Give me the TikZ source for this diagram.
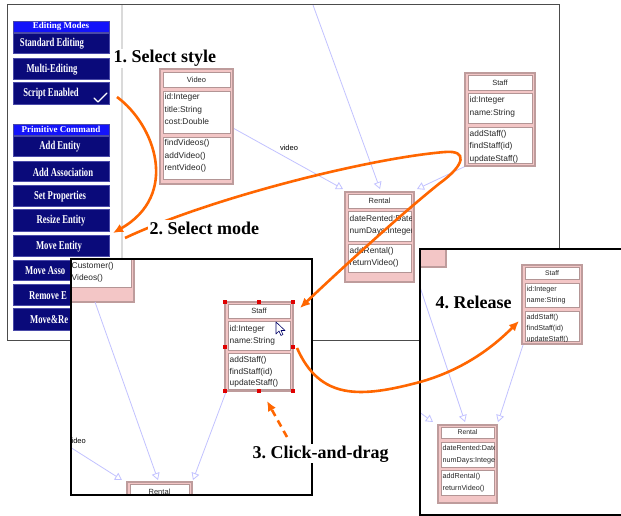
\documentclass[tikz,border=0pt]{standalone}
\usepackage{fontspec}
\setmainfont{Liberation Serif}
\newfontfamily\umlfont{Liberation Sans}
\newfontfamily\menufont[FakeStretch=0.72]{Liberation Serif}
\newfontfamily\hdrfont{Liberation Serif}
\usetikzlibrary{arrows.meta}
\definecolor{navybtn}{HTML}{0A0A7A}
\definecolor{btnedge}{HTML}{4A4AA8}
\definecolor{hdrblue}{HTML}{1414FA}
\definecolor{boxpink}{HTML}{F3C6C6}
\definecolor{boxedge}{HTML}{BE9C9C}
\definecolor{compedge}{HTML}{B39595}
\definecolor{linkblue}{HTML}{C2C2FF}
\definecolor{orng}{HTML}{FF6600}
\definecolor{sepgray}{HTML}{DADADA}
\definecolor{handle}{HTML}{E00000}
\frenchspacing

\newcommand\ucomp[8]{%
  \draw[comp] (#1,#2) rectangle (#3,#4);
  \begin{scope}
    \clip (#1,#2) rectangle (#3,#4);
    \foreach \l [count=\i] in {#8}{%
      \node[ctext, font=\umlfont\fontsize{#5}{#5}\selectfont, anchor=base west] (t-#1-#2-\i) at ({#1+1.5},{#2+#6+(\i-1)*#7}) {\l};
    }
  \end{scope}}
\newcommand\utitle[6]{%
  \draw[comp] (#1,#2) rectangle (#3,#4);
  \node[ctext, font=\umlfont\fontsize{#5}{#5}\selectfont] (tt-#1-#2) at ({(#1+#3)/2},{(#2+#4)/2}) {#6};}
\newcommand\uouter[5]{%
  \node[boxouter, anchor=north west, minimum width={#4pt-#2pt}, minimum height={#5pt-#3pt}] (#1) at (#2,#3) {};}

\begin{document}
\begin{tikzpicture}[x=1pt,y=-1pt,
  panelA/.style={draw=black!70, line width=1},
  panelB/.style={draw=black, line width=1.2},
  btn/.style={draw=btnedge, fill=navybtn, line width=0.8},
  hdr/.style={draw=btnedge, fill=hdrblue, line width=0.6},
  btntext/.style={text=white, inner sep=0, font=\menufont\bfseries\fontsize{12}{13}\selectfont},
  hdrtext/.style={text=white, inner sep=0, font=\hdrfont\bfseries\fontsize{9}{10}\selectfont},
  boxouter/.style={draw=boxedge, fill=boxpink, line width=1.1, inner sep=0, outer sep=0},
  comp/.style={draw=compedge, fill=white, line width=0.7},
  ctext/.style={inner sep=0, text=black!85},
  link/.style={draw=linkblue, line width=0.8, -{Triangle[open, length=7, width=8]}},
  linklabel/.style={inner sep=0, font=\umlfont\fontsize{7.5}{8}\selectfont},
  orangearrow/.style={draw=orng, line width=2.6, -{Latex[length=10, width=9]}},
  steplabel/.style={fill=white, inner sep=1.5, font=\bfseries\fontsize{18}{20}\selectfont},
  hdl/.style={fill=handle, draw=none}
]
\useasboundingbox (0,0) rectangle (621,516);

% ---------------- Panel 1 ----------------
\fill[white] (7,5) rectangle (559,340);
\draw[sepgray, line width=1.5] (122,5) -- (122,340);

% menu
\draw[hdr] (13,21) rectangle (109,32);
\node[hdrtext] (hEM) at (61,26.8) {Editing Modes};
\draw[hdr] (13,124) rectangle (109,135);
\node[hdrtext] (hPC) at (61,129.8) {Primitive Command};
\foreach \ya/\yb/\t/\xc [count=\k] in {
  33/53/Standard Editing/52, 58/79/Multi-Editing/52, 82/104/Script Enabled/51,
  136/156/Add Entity/60, 161/181/Add Association/63, 185/206/Set Properties/60,
  209/231/Resize Entity/61, 235/256/Move Entity/59}{
  \draw[btn] (13,\ya) rectangle (109,\yb);
  \node[btntext] (btn\k) at (\xc,{(\ya+\yb)/2+1}) {\t};
}
\foreach \ya/\yb/\t/\xs [count=\k] in {
  260/280/Move Asso/25, 284/305/Remove E/29, 308/330/Move\&Re/30}{
  \draw[btn] (13,\ya) rectangle (109,\yb);
  \node[btntext, anchor=west] (btnc\k) at (\xs,{(\ya+\yb)/2+1}) {\t};
}
\draw[white, line width=1.2, line cap=round, line join=round] (94,98) -- (98,102) -- (107,93);

% links panel 1
\coordinate (v1a) at (233,128);
\coordinate (r1a) at (343,189);
\coordinate (top1) at (313,5);
\coordinate (r1b) at (380,189);
\coordinate (s1a) at (466,166);
\coordinate (r1c) at (417,189);
\draw[link] (v1a) -- (r1a);
\draw[link] (top1) -- (r1b);
\draw[link] (s1a) -- (r1c);
\node[linklabel] (lv1) at (289,148) {video};

% Video box
\uouter{video1}{160}{69}{233}{184}
\utitle{163}{72}{230}{87}{7.5}{Video}
\ucomp{163}{91}{230}{133}{8.4}{9}{12.5}{id:Integer,title:String,cost:Double}
\ucomp{163}{137}{230}{179}{8.4}{8.5}{12.5}{findVideos(),addVideo(),rentVideo()}

% Staff box
\uouter{staff1}{465}{73}{535}{166}
\utitle{468}{75}{532}{90}{7.5}{Staff}
\ucomp{468}{93}{532}{123}{8.4}{10}{12.5}{id:Integer,name:String}
\ucomp{468}{127}{532}{163}{8.4}{9}{12.5}{addStaff(),findStaff(id),updateStaff()}

% Rental box
\uouter{rental1}{345}{192}{414}{282}
\utitle{348}{194}{411}{208}{7.5}{Rental}
\ucomp{348}{211}{411}{241}{8.4}{10}{12.5}{dateRented:Date,numDays:Integer}
\ucomp{348}{244}{411}{272}{8.4}{9}{12.5}{addRental(),returnVideo()}

\draw[panelA] (7,5) rectangle (559,340);

% ---------------- Panel 2 ----------------
\fill[white] (71,259) rectangle (312,495);
\begin{scope}
  \clip (71,259) rectangle (312,495);
  \uouter{cust2}{55}{245}{134}{302}
  \ucomp{58}{248}{131}{287}{8.4}{9}{12}{}
  \node[ctext, font=\umlfont\fontsize{8.4}{8.4}\selectfont, anchor=base west] (c2a) at (71.5,268) {Customer()};
  \node[ctext, font=\umlfont\fontsize{8.4}{8.4}\selectfont, anchor=base west] (c2b) at (71.5,280) {Videos()};
  \coordinate (c2l) at (95,302);
  \coordinate (r2a) at (158,480);
  \coordinate (s2l) at (226,392);
  \coordinate (r2b) at (193,480);
  \coordinate (v2l) at (40,428);
  \coordinate (r2c) at (122,480);
  \draw[link] (c2l) -- (r2a);
  \draw[link] (s2l) -- (r2b);
  \draw[link] (v2l) -- (r2c);
  \node[linklabel, anchor=east] (lv2) at (86,441) {video};
  % Staff (selected)
  \uouter{staff2}{225}{302}{293}{391}
  \utitle{228}{304}{290}{318}{7.5}{Staff}
  \ucomp{228}{321}{290}{350}{8.4}{10}{12}{id:Integer,name:String}
  \ucomp{228}{353}{290}{389}{8.4}{9.5}{11.5}{addStaff(),findStaff(id),updateStaff()}
  \foreach \hx/\hy in {225/302,259/302,293/302,225/347,293/347,225/391,259/391,293/391}{
    \fill[hdl] (\hx-2.2,\hy-2.2) rectangle (\hx+2.2,\hy+2.2);
  }
  % cursor
  \draw[fill=white, draw=black!60!blue, line width=0.6, line join=round]
    (276,322) -- (276,334) -- (279,331) -- (281,335.5) -- (283,334.5) -- (281,330.5) -- (285,330.5) -- cycle;
  % Rental
  \uouter{rental2}{127}{482}{192}{515}
  \utitle{130}{484}{189}{500}{7.5}{Rental}
\end{scope}
\draw[panelB] (71,259) rectangle (312,495);

% ---------------- Panel 4 ----------------
\fill[white] (420,249) rectangle (621,515);
\begin{scope}
  \clip (420,249) rectangle (621,515);
  \uouter{part4}{395}{225}{446}{267}
  \coordinate (p4l) at (413,266);
  \coordinate (r4a) at (465,422);
  \coordinate (s4l) at (523,345);
  \coordinate (r4b) at (498,422);
  \coordinate (v4l) at (400,398);
  \coordinate (r4c) at (433,422);
  \draw[link] (p4l) -- (r4a);
  \draw[link] (s4l) -- (r4b);
  \draw[link] (v4l) -- (r4c);
  \uouter{staff4}{522}{265}{582}{344}
  \utitle{525}{267}{579}{279}{6.8}{Staff}
  \ucomp{525}{283}{579}{307}{7.2}{8.5}{11}{id:Integer,name:String}
  \ucomp{525}{311}{579}{341}{7.2}{8}{11}{addStaff(),findStaff(id),updateStaff()}
  \uouter{rental4}{438}{425}{497}{503}
  \utitle{441}{427}{494}{438}{6.8}{Rental}
  \ucomp{441}{442}{494}{467}{7.2}{8.5}{12}{dateRented:Date,numDays:Integer}
  \ucomp{441}{470}{494}{495}{7.2}{8}{12}{addRental(),returnVideo()}
\end{scope}
\draw[panelB] (621,249) -- (420,249) -- (420,515) -- (621,515);

% ---------------- Orange arrows ----------------
\coordinate (o1s) at (117,97);
\coordinate (o1e) at (113,233);
\draw[orangearrow] (o1s) .. controls (155,125) and (180,195) .. (o1e);
\coordinate (o2s) at (125,238);
\coordinate (o2m) at (445,152);
\coordinate (o2n) at (440,183);
\coordinate (o2e) at (300,308);
\draw[orangearrow] (o2s) .. controls (210,198) and (370,158) .. (o2m)
  .. controls (468,150) and (465,165) .. (o2n)
  .. controls (400,215) and (340,270) .. (o2e);
\coordinate (o3s) at (287,437);
\coordinate (o3e) at (267,401);
\draw[orangearrow, dash pattern=on 7pt off 5pt] (o3s) -- (o3e);
\coordinate (o4s) at (297,348);
\coordinate (o4m) at (420,382);
\coordinate (o4e) at (519,321);
\draw[orangearrow] (o4s) .. controls (320,400) and (360,398) .. (o4m)
  .. controls (470,368) and (500,340) .. (o4e);

% ---------------- Step labels ----------------
\node[steplabel, anchor=base west] (st1) at (112,63) {1. Select style};
\node[steplabel, anchor=base west] (st2) at (148,234) {2. Select mode};
\node[steplabel, anchor=base west] (st3) at (251,458) {3. Click-and-drag};
\node[steplabel, anchor=base west] (st4) at (434,308) {4. Release};
\end{tikzpicture}
\end{document}
